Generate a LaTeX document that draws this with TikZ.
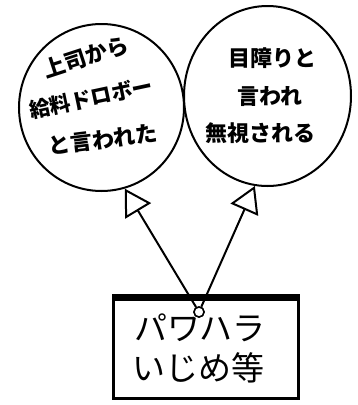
\documentclass[tikz,border=0pt]{standalone}
\usepackage{fontspec}
\newfontfamily\jp{Noto Sans CJK JP}
\usetikzlibrary{shapes.geometric,arrows.meta}
\begin{document}
\begin{tikzpicture}[x=1pt,y=-1pt,
  bubble/.style={ellipse,draw,line width=2pt,inner sep=0pt},
  bubtext/.style={inner sep=0pt,font=\jp\bfseries\fontsize{22}{26}\selectfont},
  boxtext/.style={inner sep=0pt,font=\jp\fontsize{33}{38}\selectfont},
  link/.style={line width=2pt,-{Triangle[open,length=26pt,width=30pt]}}]
\useasboundingbox (0,0) rectangle (358,405);
\node[bubble,minimum width=165pt,minimum height=167pt] (L) at (101.5,107.5) {};
\node[bubble,minimum width=167pt,minimum height=180pt] (R) at (267.5,96) {};
\node[bubtext,rotate=18] (L1) at (86,57) {上司から};
\node[bubtext,rotate=12,font=\jp\bfseries\fontsize{21}{25}\selectfont] (L2) at (91,98) {給料ドロボー};
\node[bubtext,rotate=7] (L3) at (103,140) {と言われた};
\node[bubtext] (R1) at (272,58) {目障りと};
\node[bubtext] (R2) at (270,97) {言われ};
\node[bubtext] (R3) at (260,133) {無視される};
\node[circle,draw,line width=1.5pt,minimum size=10pt,inner sep=0pt] (K) at (199,312) {};
\draw[link] (K) -- (L.-74);
\draw[link] (K) -- (R.-98);
\node[draw,line width=3pt,minimum width=185pt,minimum height=102pt,inner sep=0pt] (B) at (206,347.5) {};
\draw[line width=7pt] ([yshift=-2pt]B.north west) -- ([yshift=-2pt]B.north east);
\node[circle,draw,fill=white,line width=1.5pt,minimum size=10pt,inner sep=0pt] at (K) {};
\node[boxtext] (B1) at (200,328) {パワハラ};
\node[boxtext] (B2) at (198,368) {いじめ等};
\end{tikzpicture}
\end{document}
